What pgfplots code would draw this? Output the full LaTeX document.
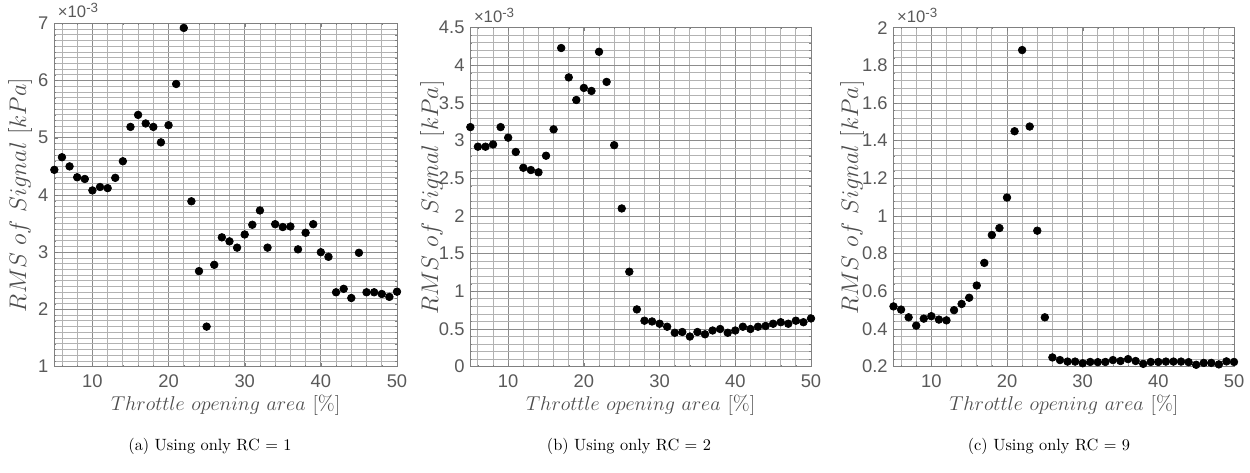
\documentclass[border=0pt]{standalone}
\usepackage{fontspec}
\usepackage{pgfplots}
\pgfplotsset{compat=1.18}
\newfontfamily\tickfont{Liberation Sans}

\pgfplotstableread{
x y
5 4.44
6 4.66
7 4.50
8 4.31
9 4.28
10 4.08
11 4.14
12 4.12
13 4.30
14 4.59
15 5.19
16 5.40
17 5.25
18 5.19
19 4.92
20 5.22
21 5.94
22 6.92
23 3.89
24 2.67
25 1.70
26 2.78
27 3.26
28 3.19
29 3.08
30 3.31
31 3.48
32 3.73
33 3.08
34 3.49
35 3.44
36 3.45
37 3.05
38 3.34
39 3.49
40 3.00
41 2.92
42 2.30
43 2.36
44 2.20
45 2.99
46 2.30
47 2.30
48 2.27
49 2.22
50 2.31
}\dataA

\pgfplotstableread{
x y
5 3.18
6 2.92
7 2.92
8 2.95
9 3.18
10 3.04
11 2.85
12 2.64
13 2.61
14 2.58
15 2.80
16 3.15
17 4.23
18 3.84
19 3.54
20 3.70
21 3.66
22 4.18
23 3.78
24 2.94
25 2.10
26 1.26
27 0.76
28 0.61
29 0.60
30 0.57
31 0.53
32 0.45
33 0.46
34 0.40
35 0.46
36 0.43
37 0.48
38 0.50
39 0.45
40 0.48
41 0.53
42 0.50
43 0.53
44 0.54
45 0.57
46 0.59
47 0.57
48 0.61
49 0.59
50 0.64
}\dataB

\pgfplotstableread{
x y
5 0.520
6 0.503
7 0.462
8 0.418
9 0.455
10 0.468
11 0.450
12 0.446
13 0.500
14 0.533
15 0.566
16 0.631
17 0.751
18 0.899
19 0.936
20 1.098
21 1.450
22 1.881
23 1.475
24 0.922
25 0.462
26 0.249
27 0.235
28 0.227
29 0.227
30 0.218
31 0.225
32 0.224
33 0.225
34 0.235
35 0.230
36 0.240
37 0.230
38 0.215
39 0.225
40 0.225
41 0.227
42 0.227
43 0.227
44 0.224
45 0.210
46 0.220
47 0.220
48 0.212
49 0.228
50 0.225
}\dataC

\pgfplotsset{
  rmsstyle/.style={
    anchor=south west, scale only axis,
    xmin=5, xmax=50,
    xtick={10,20,30,40,50},
    minor xtick={6,8,12,14,16,18,22,24,26,28,32,34,36,38,42,44,46,48},
    xminorgrids=true, yminorgrids=true, xmajorgrids=true, ymajorgrids=true,
    major grid style={black!45, line width=0.5pt},
    minor grid style={black!30, line width=0.5pt},
    axis line style={black!50, line width=0.5pt},
    tick style={black!50},
    major tick length=2pt, minor tick length=1pt,
    tick align=inside,
    /pgf/number format/assume math mode=true,
    ticklabel style={font=\tickfont\fontsize{11}{12}\selectfont, text=black!65},
    xticklabel style={yshift=-1pt},
    scaled ticks=false,
    clip=false,
  },
  dots/.style={only marks, mark=*, mark size=2.3pt, color=black, mark options={fill=black, draw=black}},
}

\newcommand{\expnode}{\node[anchor=south west, inner sep=0pt, text=black!65, font=\tickfont\fontsize{10}{12}\selectfont] at (rel axis cs:0,1) [xshift=2pt, yshift=3pt] {×10\raisebox{0.55ex}{\fontsize{8}{9}\selectfont -3}};}

\begin{document}
\begin{tikzpicture}
\useasboundingbox (0,0) rectangle (750pt,283.8pt);

% (a)
\begin{axis}[rmsstyle, at={(32.6pt,63.8pt)}, width=205.6pt, height=206pt,
  ymin=1, ymax=7, ytick={1,2,3,4,5,6,7},
  minor ytick={1.1,1.2,...,6.95}]
\addplot[dots] table[x=x,y=y] {\dataA};
\expnode
\end{axis}

% (b)
\begin{axis}[rmsstyle, at={(282.2pt,63.8pt)}, width=204.4pt, height=203.4pt,
  ymin=0, ymax=4.5, ytick={0,0.5,1,1.5,2,2.5,3,3.5,4,4.5},
  minor ytick={0.1,0.2,...,4.45}]
\addplot[dots] table[x=x,y=y] {\dataB};
\expnode
\end{axis}

% (c)
\begin{axis}[rmsstyle, at={(536.1pt,63.8pt)}, width=204.3pt, height=203.4pt,
  ymin=0.2, ymax=2, ytick={0.2,0.4,0.6,0.8,1,1.2,1.4,1.6,1.8,2},
  minor ytick={0.24,0.28,...,1.98}]
\addplot[dots] table[x=x,y=y] {\dataC};
\expnode
\end{axis}

% x labels
\node[text=black!70, font=\fontsize{12.4}{14}\selectfont] at (135.4pt,40.8pt) {$Throttle\ opening\ area\ [\%]$};
\node[text=black!70, font=\fontsize{12.4}{14}\selectfont] at (384.4pt,40.8pt) {$Throttle\ opening\ area\ [\%]$};
\node[text=black!70, font=\fontsize{12.4}{14}\selectfont] at (638.3pt,40.8pt) {$Throttle\ opening\ area\ [\%]$};

% y labels
\node[text=black!70, rotate=90, font=\fontsize{14}{16}\selectfont] at (12pt,166.8pt) {$RMS\ of\ Signal\ [kPa]$};
\node[text=black!70, rotate=90, font=\fontsize{14}{16}\selectfont] at (259.2pt,165.3pt) {$RMS\ of\ Signal\ [kPa]$};
\node[text=black!70, rotate=90, font=\fontsize{14}{16}\selectfont] at (511.2pt,165.3pt) {$RMS\ of\ Signal\ [kPa]$};

% captions
\node[font=\fontsize{9.8}{12}\selectfont] at (126pt,16.2pt) {(a) Using only RC = 1};
\node[font=\fontsize{9.8}{12}\selectfont] at (377.4pt,16.2pt) {(b) Using only RC = 2};
\node[font=\fontsize{9.8}{12}\selectfont] at (629.4pt,16.2pt) {(c) Using only RC = 9};
\end{tikzpicture}
\end{document}
